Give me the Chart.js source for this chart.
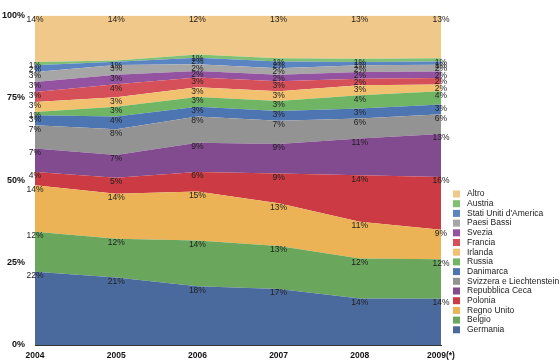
<!DOCTYPE html>
<html>
<head>
<meta charset="utf-8">
<script src="https://cdn.jsdelivr.net/npm/chart.js@4/dist/chart.umd.min.js"></script>
<style>
  html, body { margin: 0; padding: 0; background: #fff; }
  #wrap { width: 560px; height: 362px; }
</style>
</head>
<body>
<div id="wrap"><canvas id="myAreaChart" width="560" height="362"></canvas></div>
<script>
Chart.defaults.font.family = 'Helvetica, Arial, "Liberation Sans", sans-serif';
Chart.defaults.color = "#222";

const years = ["2004", "2005", "2006", "2007", "2008", "2009(*)"];
const yTicks = [0, 25, 50, 75, 100];

// bottom to top, shares in %
const germania = [22, 21, 18, 17, 14, 14];
const belgio = [12, 12, 14, 13, 12, 12];
const regnoUnito = [14, 14, 15, 13, 11, 9];
const polonia = [4, 5, 6, 9, 14, 16];
const repCeca = [7, 7, 9, 9, 11, 13];
const svizzera = [7, 8, 8, 7, 6, 6];
const danimarca = [3, 4, 3, 3, 3, 3];
const russia = [1, 3, 3, 3, 4, 4];
const irlanda = [3, 3, 3, 3, 3, 2];
const francia = [3, 4, 3, 3, 2, 2];
const svezia = [3, 3, 2, 2, 2, 2];
const paesiBassi = [3, 3, 2, 2, 2, 2];
const statiUniti = [2, 1, 2, 2, 1, 1];
const austria = [1, 0.4, 1, 1, 1, 1];
const altro = [14, 14, 12, 13, 13, 13];

const series = [
  { label: "Germania", data: germania, color: "#4a6a9e" },
  { label: "Belgio", data: belgio, color: "#6aa75c" },
  { label: "Regno Unito", data: regnoUnito, color: "#ebb356" },
  { label: "Polonia", data: polonia, color: "#cc3a43" },
  { label: "Repubblica Ceca", data: repCeca, color: "#824a8f" },
  { label: "Svizzera e Liechtenstein", data: svizzera, color: "#939393" },
  { label: "Danimarca", data: danimarca, color: "#4d75b2" },
  { label: "Russia", data: russia, color: "#70b563" },
  { label: "Irlanda", data: irlanda, color: "#f1c170" },
  { label: "Francia", data: francia, color: "#d6505a" },
  { label: "Svezia", data: svezia, color: "#9353a0" },
  { label: "Paesi Bassi", data: paesiBassi, color: "#a6a6a6" },
  { label: "Stati Uniti d'America", data: statiUniti, color: "#5a84c2" },
  { label: "Austria", data: austria, color: "#80c073" },
  { label: "Altro", data: altro, color: "#f0c98a" },
];

// totals per year, so the stack fills 100%
const totals = years.map((_, j) => series.reduce((s, d) => s + d.data[j], 0));

// percent labels at the top edge of every band
const bandLabels = {
  id: "bandLabels",
  afterDatasetsDraw(chart) {
    const ctx = chart.ctx;
    ctx.save();
    ctx.font = '8.5px Helvetica, Arial, "Liberation Sans", sans-serif';
    ctx.fillStyle = "#222";
    ctx.textAlign = "center";
    ctx.textBaseline = "middle";
    chart.data.datasets.forEach((ds, i) => {
      const meta = chart.getDatasetMeta(i);
      meta.data.forEach((pt, j) => {
        const v = Math.round(series[i].data[j]);
        if (v < 1) return;
        ctx.fillText(v + "%", pt.x, pt.y + 4);
      });
    });
    ctx.restore();
  },
};

// legend on the right, top item = top band
const sideLegend = {
  id: "sideLegend",
  afterDraw(chart) {
    const ctx = chart.ctx;
    ctx.save();
    ctx.font = '8.5px Helvetica, Arial, "Liberation Sans", sans-serif';
    ctx.textBaseline = "middle";
    const items = series.slice().reverse();
    items.forEach((s, k) => {
      const y = 194 + k * 9.7;
      ctx.fillStyle = s.color;
      ctx.fillRect(453, y - 3.5, 7, 7);
      ctx.fillStyle = "#222";
      ctx.fillText(s.label, 467, y);
    });
    ctx.restore();
  },
};

const ctx = document.getElementById("myAreaChart");
const myChart = new Chart(ctx, {
  type: "line",
  data: {
    labels: years,
    datasets: series.map((s, i) => ({
      label: s.label,
      data: s.data.map((v, j) => (v / totals[j]) * 100),
      backgroundColor: s.color,
      borderColor: s.color,
      borderWidth: 0,
      pointRadius: 0,
      tension: 0,
      fill: i === 0 ? "origin" : "-1",
    })),
  },
  options: {
    responsive: false,
    animation: false,
    layout: { padding: { top: 10, right: 119, left: 0, bottom: 0 } },
    scales: {
      x: {
        offset: false,
        grid: { display: false, drawTicks: false },
        border: { display: true, color: "#333", width: 1 },
        ticks: {
          padding: 6,
          maxRotation: 0,
          autoSkip: false,
          font: { size: 8.5, weight: "bold" },
          color: "#111",
        },
        afterFit(scale) {
          scale.height = 17;
        },
      },
      y: {
        stacked: true,
        min: 0,
        max: 100,
        grid: { display: false, drawTicks: false },
        border: { display: false },
        afterBuildTicks(scale) {
          scale.ticks = yTicks.map((v) => ({ value: v }));
        },
        ticks: {
          padding: 10,
          font: { size: 9, weight: "bold" },
          color: "#111",
          callback: (v) => v + "%",
        },
        afterFit(scale) {
          scale.width = 35;
        },
      },
    },
    plugins: {
      legend: { display: false },
      tooltip: { enabled: false },
    },
  },
  plugins: [bandLabels, sideLegend],
});
</script>
</body>
</html>
